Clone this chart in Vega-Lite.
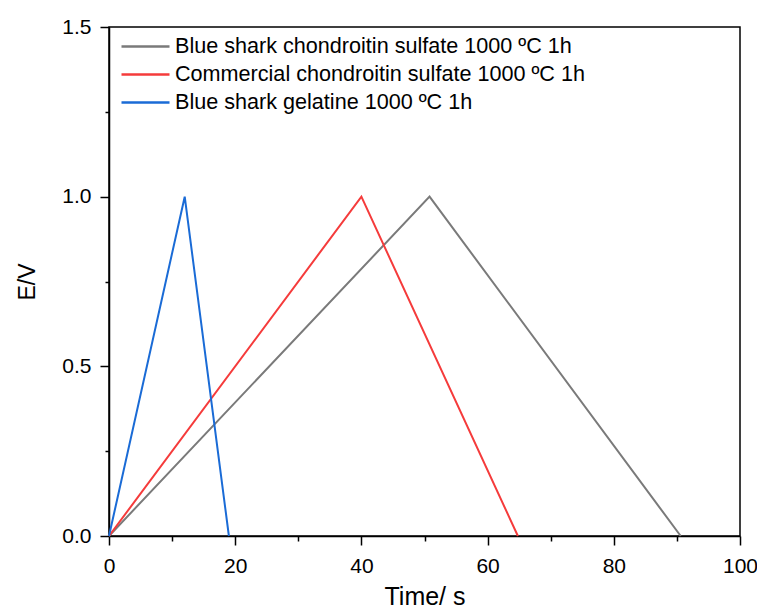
{
  "$schema": "https://vega.github.io/schema/vega-lite/v6.json",
  "width": 631,
  "height": 509,
  "autosize": {"type": "none"},
  "padding": {"left": 109, "top": 27, "right": 17, "bottom": 76},
  "background": "white",
  "config": {
    "font": "Liberation Sans",
    "view": {"stroke": "black", "strokeWidth": 1.5}
  },
  "data": {
    "values": [
      {"s": "Blue shark chondroitin sulfate 1000 ºC 1h", "o": 0, "t": 0, "e": 0},
      {"s": "Blue shark chondroitin sulfate 1000 ºC 1h", "o": 1, "t": 50.8, "e": 1.0},
      {"s": "Blue shark chondroitin sulfate 1000 ºC 1h", "o": 2, "t": 90.6, "e": 0},
      {"s": "Commercial chondroitin sulfate 1000 ºC 1h", "o": 0, "t": 0, "e": 0},
      {"s": "Commercial chondroitin sulfate 1000 ºC 1h", "o": 1, "t": 40.0, "e": 1.0},
      {"s": "Commercial chondroitin sulfate 1000 ºC 1h", "o": 2, "t": 64.8, "e": 0},
      {"s": "Blue shark gelatine 1000 ºC 1h", "o": 0, "t": 0, "e": 0},
      {"s": "Blue shark gelatine 1000 ºC 1h", "o": 1, "t": 12.0, "e": 1.0},
      {"s": "Blue shark gelatine 1000 ºC 1h", "o": 2, "t": 19.0, "e": 0}
    ]
  },
  "mark": {"type": "line", "strokeWidth": 2},
  "encoding": {
    "x": {
      "field": "t", "type": "quantitative",
      "scale": {"domain": [0, 100], "nice": false, "zero": false},
      "axis": {
        "title": "Time/ s", "titleFontSize": 25, "titleFontWeight": "normal", "titlePadding": 8, "titleColor": "black",
        "values": [0, 10, 20, 30, 40, 50, 60, 70, 80, 90, 100],
        "labelExpr": "datum.value % 20 === 0 ? datum.label : ''",
        "tickSize": {"condition": {"test": "datum.value % 20 === 0", "value": 9}, "value": 5},
        "labelFontSize": 21, "labelPadding": 10, "labelColor": "black",
        "tickColor": "black", "tickWidth": 1.5, "domainColor": "black", "domainWidth": 1.5,
        "grid": false, "labelFlush": false, "labelOverlap": false
      }
    },
    "y": {
      "field": "e", "type": "quantitative",
      "scale": {"domain": [0, 1.5], "nice": false, "zero": false},
      "axis": {
        "title": "E/V", "titleFontSize": 23, "titleFontWeight": "normal", "titlePadding": 22, "titleColor": "black",
        "values": [0, 0.25, 0.5, 0.75, 1.0, 1.25, 1.5],
        "labelExpr": "(datum.value * 4) % 2 === 0 ? format(datum.value, '.1f') : ''",
        "tickSize": {"condition": {"test": "(datum.value * 4) % 2 === 0", "value": 9}, "value": 4},
        "labelFontSize": 21, "labelPadding": 9, "labelColor": "black",
        "tickColor": "black", "tickWidth": 1.5, "domainColor": "black", "domainWidth": 1.5,
        "grid": false, "labelFlush": false, "labelOverlap": false
      }
    },
    "color": {
      "field": "s", "type": "nominal",
      "sort": ["Blue shark chondroitin sulfate 1000 ºC 1h", "Commercial chondroitin sulfate 1000 ºC 1h", "Blue shark gelatine 1000 ºC 1h"],
      "scale": {
        "domain": ["Blue shark chondroitin sulfate 1000 ºC 1h", "Commercial chondroitin sulfate 1000 ºC 1h", "Blue shark gelatine 1000 ºC 1h"],
        "range": ["#7a7a7a", "#f53b3b", "#1a6bd6"]
      },
      "legend": {
        "title": null, "orient": "none", "legendX": 25, "legendY": 8,
        "symbolType": "M-2.4,0H2.4", "symbolSize": 400, "symbolStrokeWidth": 2.5,
        "labelFontSize": 21.6, "labelColor": "black", "labelLimit": 600,
        "rowPadding": 5, "labelOffset": 18
      }
    },
    "order": {"field": "o", "type": "quantitative"}
  }
}
